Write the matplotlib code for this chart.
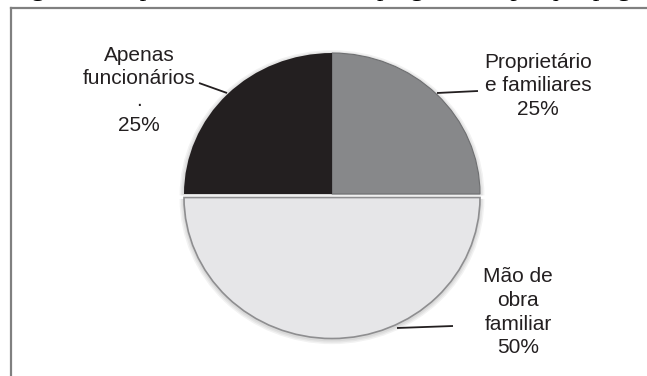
import matplotlib
matplotlib.use("Agg")
import matplotlib.pyplot as plt
from matplotlib.lines import Line2D
import numpy as np

categories = ["Proprietário\ne familiares", "Apenas\nfuncionários\n.", "Mão de\nobra\nfamiliar"]
values = [25, 25, 50]
colors = ["#87888a", "#231f20", "#e6e6e8"]
explode = [0, 0, 0.025]

W, H = 647, 376
fig = plt.figure(figsize=(W / 100, H / 100), dpi=100)
ax = fig.add_axes([0, 0, 1, 1])
ax.set_axis_off()

# pixel -> data mapping (pie radius 1 = 148 px wide, 141 px tall)
cx, cy = 332, 194
sx, sy = 148.0, 141.0

def px(x, y):
    return ((x - cx) / sx, (cy - y) / sy)

# soft shadow beneath the pie
for k in range(3):
    ax.pie(values, startangle=0, counterclock=True, explode=explode,
           colors=["#000000"] * 3, radius=1.0 + 0.01 * (k + 1),
           center=(0, -0.01), wedgeprops=dict(alpha=0.05, linewidth=0),
           frame=True)

wedges, _ = ax.pie(values, startangle=0, counterclock=True, explode=explode,
                   colors=colors, radius=1.0, frame=True,
                   wedgeprops=dict(linewidth=0))
wedges[2].set_edgecolor("#8e8e90")
wedges[2].set_linewidth(1.2)
wedges[0].set_edgecolor("#6e6f71")
wedges[0].set_linewidth(0.8)
ax.set_xlim(-cx / sx, (W - cx) / sx)
ax.set_ylim(-(H - cy) / sy, cy / sy)
ax.set_aspect("auto")
ax.set_axis_off()

font = dict(family=["Liberation Sans", "DejaVu Sans"], fontsize=15, color="#231f20")

# labels
pct = [f"{v}%" for v in values]
label_pos = [(538, 62), (139, 55), (518, 277)]
for cat, p, (lx, ly) in zip(categories, pct, label_pos):
    lines = cat.split("\n") + [p]
    step = 23.5
    for i, t in enumerate(lines):
        yy = ly + i * step
        if t == ".":
            yy = ly + i * step - 2
        ax.text(*px(lx, yy), t, ha="center", va="center", **font)

# leader lines
leaders = [((437, 93), (478, 91)), ((227, 93), (199, 83)), ((397, 328), (453, 326))]
for (x0, y0), (x1, y1) in leaders:
    a, b = px(x0, y0), px(x1, y1)
    ax.plot([a[0], b[0]], [a[1], b[1]], color="#231f20", lw=1.3, solid_capstyle="butt")

# frame border (extends off the right/bottom edges)
bx, by = 11 / W, 1 - 8 / H
fig.add_artist(Line2D([bx, bx], [0, by], transform=fig.transFigure, color="#808080", lw=1.6))
fig.add_artist(Line2D([bx, 1.0], [by, by], transform=fig.transFigure, color="#808080", lw=1.6))

# caption (cut off at the top of the image)
cap_y = 1 + 4 / H
serif = ["Liberation Serif", "DejaVu Serif"]
t1 = fig.text(8 / W, cap_y, "Figura 3.", ha="left", va="baseline",
              family=serif, fontsize=19, fontweight="bold")
fig.canvas.draw()
ext = t1.get_window_extent(renderer=fig.canvas.get_renderer())
fig.text((ext.x1 + 6) / W, cap_y, "Tipo de Mão de obra empregada nos pesque-pague",
         ha="left", va="baseline", family=serif, fontsize=19)

fig.savefig("out.png", dpi=100)
